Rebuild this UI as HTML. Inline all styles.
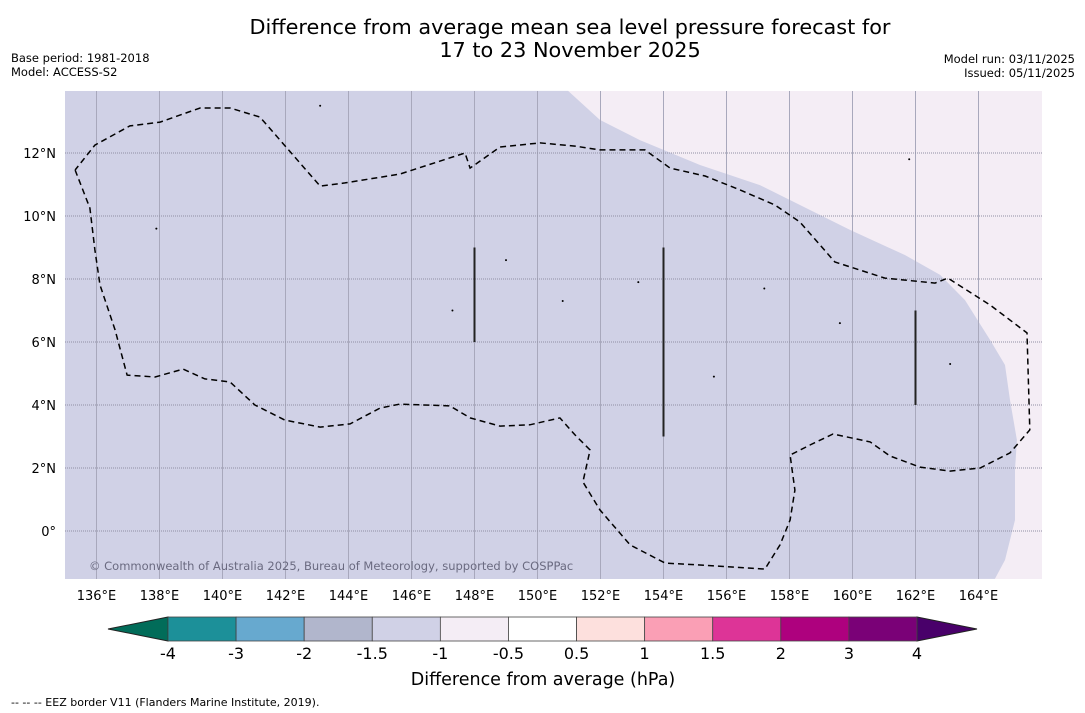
<!DOCTYPE html>
<html><head><meta charset="utf-8"><style>
html,body{margin:0;padding:0;background:#fff;}
svg{display:block;font-family:"DejaVu Sans","Liberation Sans",sans-serif;}
</style></head><body>
<svg id="chart" width="1085" height="713" viewBox="0 0 1085 713">
<text x="570" y="34" text-anchor="middle" font-size="20.8">Difference from average mean sea level pressure forecast for</text>
<text x="570" y="57" text-anchor="middle" font-size="20.8">17 to 23 November 2025</text>
<text x="11" y="62" font-size="11.5">Base period: 1981-2018</text>
<text x="11" y="76" font-size="11.5">Model: ACCESS-S2</text>
<text x="1075" y="63" font-size="11.5" text-anchor="end">Model run: 03/11/2025</text>
<text x="1075" y="77" font-size="11.5" text-anchor="end">Issued: 05/11/2025</text>
<g id="map"></g>
<g id="cbar"></g>
<text x="543" y="685" text-anchor="middle" font-size="17.5">Difference from average (hPa)</text>
<text x="11" y="706" font-size="11">--  --  -- EEZ border V11 (Flanders Marine Institute, 2019).</text>
</svg>
<script>
const lonTicks=[136,138,140,142,144,146,148,150,152,154,156,158,160,162,164];
const latTicks=[0,2,4,6,8,10,12];
const regionLon=[150.97,151.98,153.25,155.16,157.06,159.92,161.67,162.78,163.57,164.37,164.84,165.0,165.22,165.16,165.16,164.84,164.52];
const regionLat=[13.97,13.05,12.41,11.62,10.98,9.56,8.76,8.13,7.33,6.06,5.27,4.16,2.89,1.94,0.35,-0.92,-1.52];
const eezLon=[135.32,135.79,135.95,136.11,136.59,136.97,137.86,138.75,139.44,140.24,141.03,141.98,143.10,144.05,145.0,145.63,147.22,147.86,148.81,149.76,150.71,151.19,151.67,151.44,151.98,152.94,154.05,155.16,157.22,157.70,158.02,158.17,158.02,158.65,159.38,160.56,161.19,162.14,163.10,164.05,165.0,165.63,165.54,164.37,163.03,162.62,161.03,159.44,158.33,157.54,156.43,155.32,154.21,153.41,151.98,151.19,150.08,148.81,147.86,147.70,145.63,143.89,143.10,141.19,140.24,139.29,138.02,137.06,135.95,135.32];
const eezLat=[11.46,10.25,8.92,7.81,6.38,4.95,4.89,5.14,4.83,4.73,4.0,3.52,3.30,3.40,3.90,4.03,3.97,3.59,3.33,3.37,3.59,3.05,2.57,1.56,0.67,-0.44,-1.02,-1.08,-1.21,-0.44,0.35,1.30,2.41,2.73,3.08,2.83,2.38,2.03,1.90,2.0,2.48,3.21,6.29,7.17,8.03,7.87,8.03,8.54,9.81,10.35,10.83,11.27,11.52,12.10,12.10,12.22,12.32,12.19,11.52,12.0,11.33,11.05,10.95,13.14,13.43,13.43,12.98,12.86,12.25,11.46];
const segLon=[148,154,162];
const segLat0=[6,3,4];
const segLat1=[9,9,7];
const islandLon=[143.1,137.9,150.8,155.6,157.2,159.6,163.1,161.8,153.2,147.3,149.0];
const islandLat=[13.5,9.6,7.3,4.9,7.7,6.6,5.3,11.8,7.9,7.0,8.6];
const cbBounds=[-4,-3,-2,-1.5,-1,-0.5,0.5,1,1.5,2,3,4];
const cbColors=['#1c9099','#67a9cf','#b1b6cc','#d0d1e6','#f4edf5','#ffffff','#fde0dd','#fa9fb5','#dd3497','#ae017e','#7a0177'];
const cbLabels=['-4','-3','-2','-1.5','-1','-0.5','0.5','1','1.5','2','3','4'];

const NS='http://www.w3.org/2000/svg';
const X0=65,X1=1042,Y0=91,Y1=579;
const xS=lon=>65+(lon-135)*31.5;
const yS=lat=>531-lat*31.5;
function mk(tag,attrs,parent){const e=document.createElementNS(NS,tag);for(const k in attrs)e.setAttribute(k,attrs[k]);parent.appendChild(e);return e;}
const map=document.getElementById('map');
let r=mk('rect',{x:X0,y:Y0,width:X1-X0,height:Y1-Y0,fill:'#f4edf5'},map);


let d='M'+X0+','+Y0+' ';
regionLon.forEach((lo,i)=>{d+='L'+xS(lo).toFixed(1)+','+yS(regionLat[i]).toFixed(1)+' ';});
d+='L'+X0+','+Y1+' Z';
let p=mk('path',{d:d,fill:'#d0d1e6'},map);


lonTicks.forEach(lo=>{
  let l=mk('line',{x1:xS(lo),x2:xS(lo),y1:Y0,y2:Y1,stroke:'#a8a8bc','stroke-width':1},map);
  
  
  let t=mk('text',{x:xS(lo),y:600,'text-anchor':'middle','font-size':13},map);
  t.textContent=lo+'°E';
  
  
});
latTicks.forEach(la=>{
  let l=mk('line',{x1:X0,x2:X1,y1:yS(la),y2:yS(la),stroke:'#9090a4','stroke-width':1,'stroke-dasharray':'1,1'},map);
  
  
  let t=mk('text',{x:56,y:yS(la)+5,'text-anchor':'end','font-size':13},map);
  t.textContent=la+'°'+(la>0?'N':'');
  
  
});
let pts=eezLon.map((lo,i)=>xS(lo).toFixed(1)+','+yS(eezLat[i]).toFixed(1)).join(' ');
let eez=mk('polyline',{points:pts,fill:'none',stroke:'#000','stroke-width':1.5,'stroke-dasharray':'6,4'},map);


segLon.forEach((lo,i)=>{
  let l=mk('line',{x1:xS(lo),x2:xS(lo),y1:yS(segLat1[i]),y2:yS(segLat0[i]),stroke:'#222','stroke-width':2},map);
  
  
});
islandLon.forEach((lo,i)=>{
  let c=mk('circle',{cx:xS(lo),cy:yS(islandLat[i]),r:1,fill:'#000'},map);
  
  
});
let cp=mk('text',{x:89,y:570,'font-size':11.5,fill:'#6a6a80'},map);
cp.textContent='© Commonwealth of Australia 2025, Bureau of Meteorology, supported by COSPPac';



const cb=document.getElementById('cbar');
const CX0=168,CX1=917,CY0=617,CY1=641;
const bw=(CX1-CX0)/cbColors.length;
let la=mk('polygon',{points:`108,${(CY0+CY1)/2} ${CX0},${CY0} ${CX0},${CY1}`,fill:'#016c59',stroke:'#222'},cb);


let ra=mk('polygon',{points:`977,${(CY0+CY1)/2} ${CX1},${CY0} ${CX1},${CY1}`,fill:'#49006a',stroke:'#222'},cb);


cbColors.forEach((c,i)=>{
  let b=mk('rect',{x:CX0+i*bw,y:CY0,width:bw,height:CY1-CY0,fill:c,stroke:'#444','stroke-width':0.8},cb);
  
  
});
cbLabels.forEach((s,i)=>{
  let t=mk('text',{x:CX0+i*bw,y:659,'text-anchor':'middle','font-size':16},cb);
  t.textContent=s;
  
  
});
</script>
</body></html>
